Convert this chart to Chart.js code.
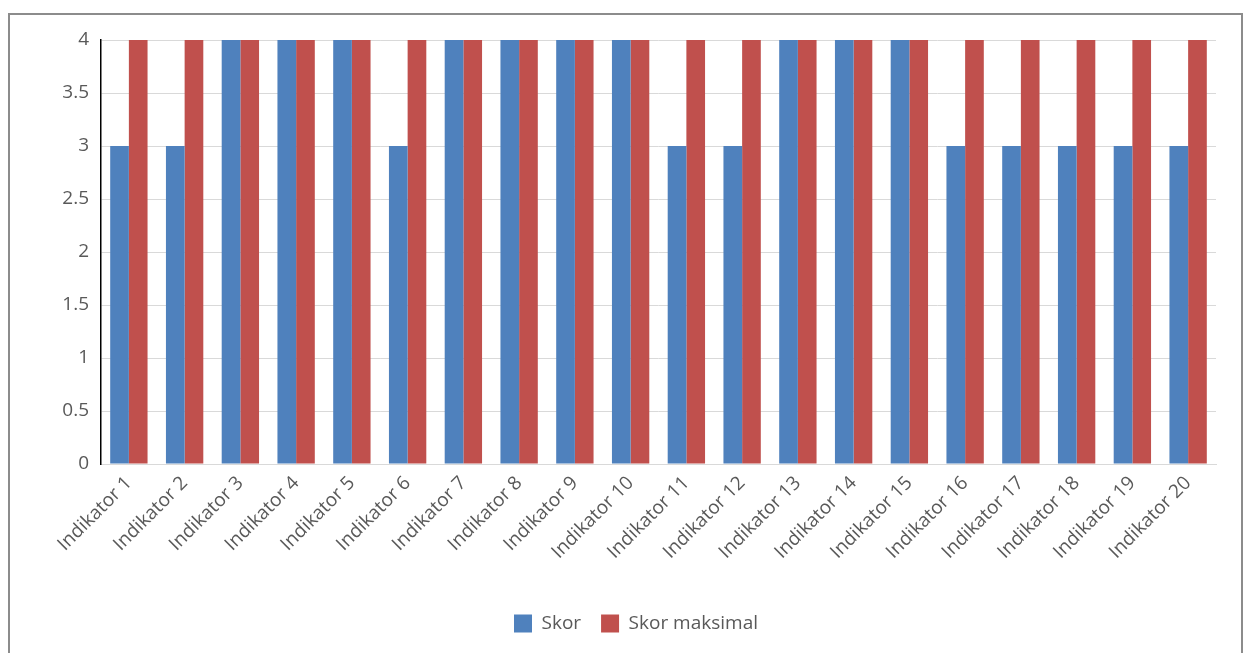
<!DOCTYPE html>
<html>
<head>
<meta charset="utf-8">
<script src="https://cdn.jsdelivr.net/npm/chart.js@4"></script>
<style>
  html, body { margin: 0; padding: 0; background: #fff; overflow: hidden; }
  #box {
    position: absolute; left: 8px; top: 13px; width: 1231px; height: 660px;
    border: 2px solid #8c8c8c; border-bottom: none;
  }
  #wrap { position: absolute; left: 0; top: 0; width: 1231px; height: 640px; }
</style>
</head>
<body>
<div id="box"><div id="wrap"><canvas id="chart"></canvas></div></div>
<script>
const categories = ['Indikator 1', 'Indikator 2', 'Indikator 3', 'Indikator 4', 'Indikator 5',
  'Indikator 6', 'Indikator 7', 'Indikator 8', 'Indikator 9', 'Indikator 10',
  'Indikator 11', 'Indikator 12', 'Indikator 13', 'Indikator 14', 'Indikator 15',
  'Indikator 16', 'Indikator 17', 'Indikator 18', 'Indikator 19', 'Indikator 20'];
const skor = [3, 3, 4, 4, 4, 3, 4, 4, 4, 4, 3, 3, 4, 4, 4, 3, 3, 3, 3, 3];
const skorMaksimal = [4, 4, 4, 4, 4, 4, 4, 4, 4, 4, 4, 4, 4, 4, 4, 4, 4, 4, 4, 4];

const textColor = '#595959';
const fontFamily = '"Open Sans", "Noto Sans", sans-serif';

new Chart(document.getElementById('chart'), {
  type: 'bar',
  data: {
    labels: categories,
    datasets: [
      { label: 'Skor', data: skor, backgroundColor: '#4f81bd', categoryPercentage: 0.67, barPercentage: 1 },
      { label: 'Skor maksimal', data: skorMaksimal, backgroundColor: '#c0504d', categoryPercentage: 0.67, barPercentage: 1 }
    ]
  },
  options: {
    responsive: true,
    maintainAspectRatio: false,
    animation: false,
    // left padding shifts the legend centre; y-axis width is reduced to compensate
    layout: { padding: { top: 25, right: 25, left: 46, bottom: 12 } },
    plugins: {
      tooltip: { enabled: false },
      legend: {
        position: 'bottom',
        labels: {
          color: textColor, font: { family: fontFamily, size: 19 },
          boxWidth: 18, boxHeight: 18, padding: 20
        }
      }
    },
    scales: {
      x: {
        afterFit: (scale) => { scale.height = 130; scale.paddingTop = 0; scale.paddingBottom = 0; scale.paddingLeft = 0; },
        grid: { display: false, drawTicks: false },
        border: { color: '#d9d9d9', width: 1 },
        ticks: {
          color: textColor, font: { family: fontFamily, size: 19 },
          minRotation: 45, maxRotation: 45, padding: 8, autoSkip: false
        }
      },
      y: {
        min: 0, max: 4,
        afterFit: (scale) => { scale.width = 45; scale.paddingTop = 0; scale.paddingBottom = 0; },
        grid: { color: '#d9d9d9', drawTicks: false },
        border: { color: '#000', width: 1.5 },
        ticks: {
          color: textColor, font: { family: fontFamily, size: 19 }, stepSize: 0.5, padding: 12,
          callback: (v) => String(v)
        }
      }
    }
  }
});
</script>
</body>
</html>
